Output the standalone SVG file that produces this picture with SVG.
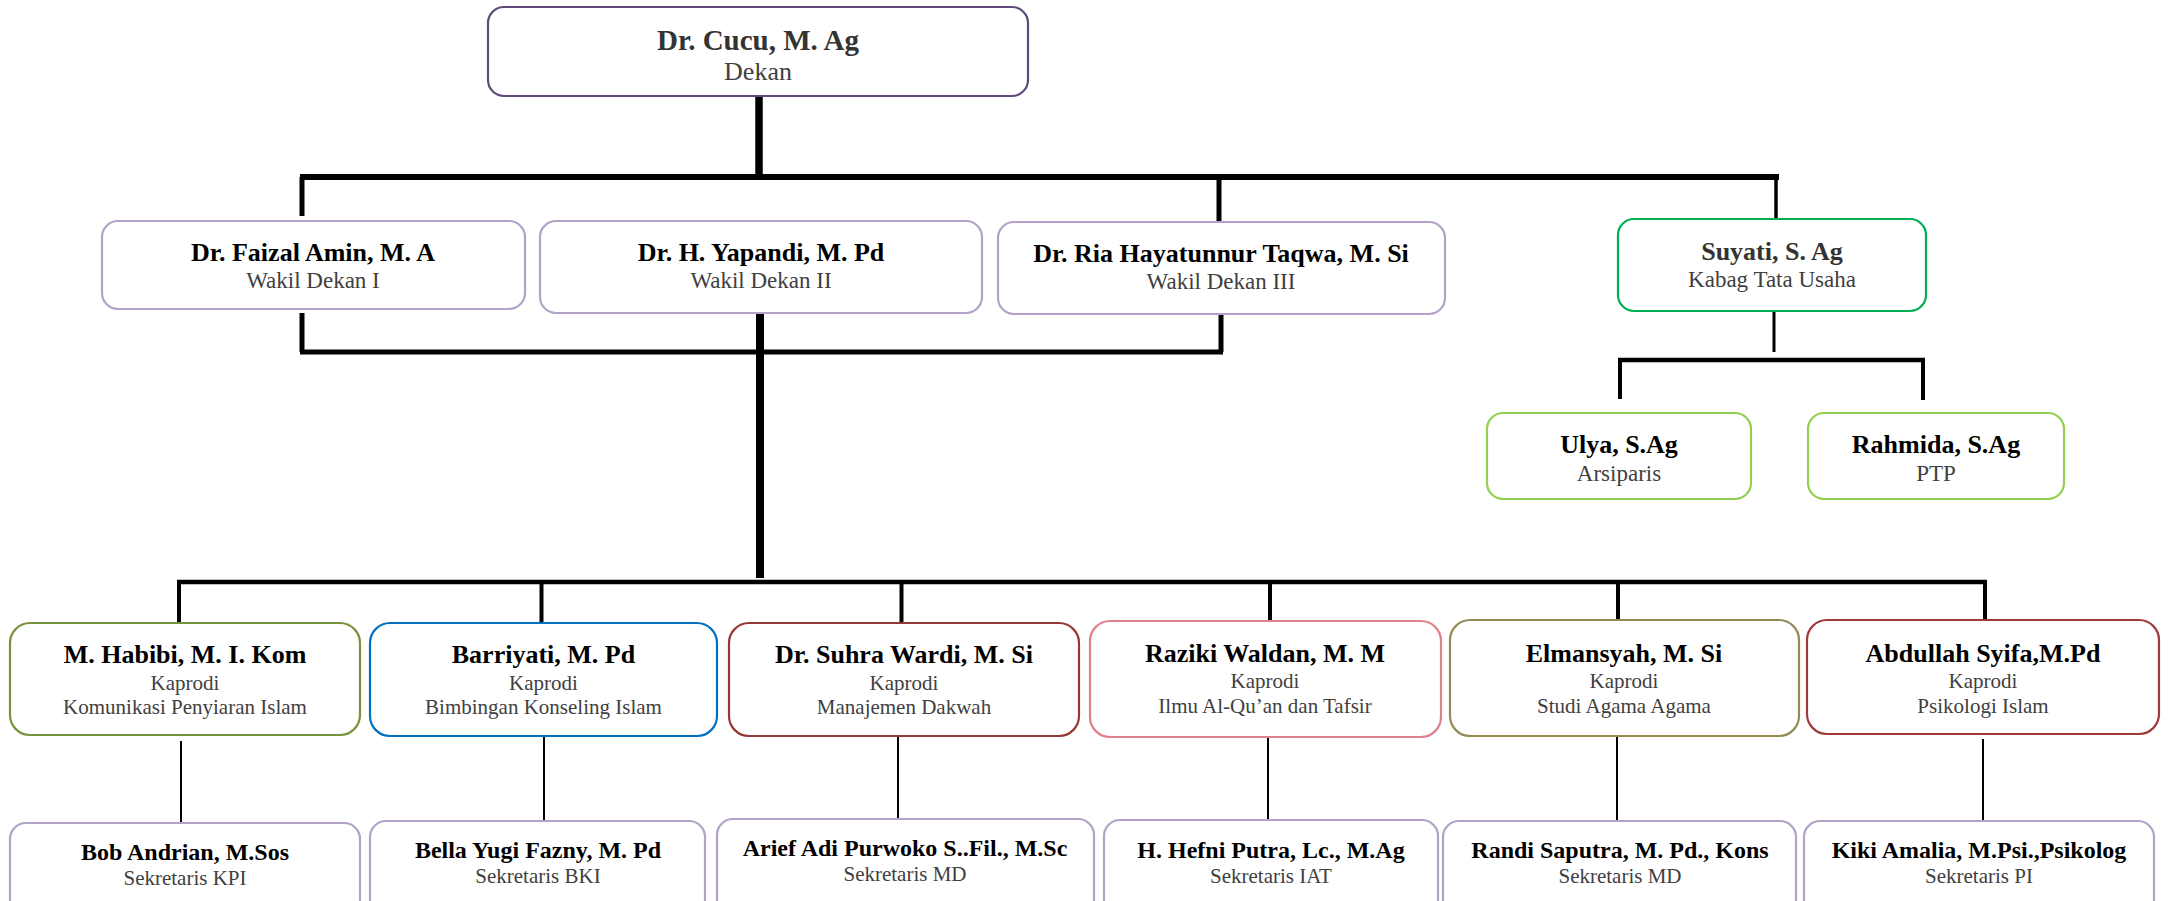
<svg xmlns="http://www.w3.org/2000/svg" width="2170" height="901" viewBox="0 0 2170 901">
<style>
  .bg{fill:#ffffff}
  .box{fill:#ffffff;stroke-width:2.2}
  .lav{stroke:#b3a2c7}
  .nm{font-family:"Liberation Serif","Times New Roman",serif;font-weight:bold;fill:#000;text-anchor:middle}
  .sb{font-family:"Liberation Serif","Times New Roman",serif;fill:#404040;text-anchor:middle}
  .c{fill:none;stroke:#000;stroke-linecap:butt}
  .n1{font-size:29px}
  .s1{font-size:26px}
  .n2{font-size:26px}
  .s2{font-size:23px}
  .n3{font-size:26px}
  .s3{font-size:21px}
  .n4{font-size:24px}
  .s4{font-size:21px}
</style>
<rect class="bg" x="0" y="0" width="2170" height="901"/>

<g id="connectors">
  <path class="c" d="M759 96 V177" stroke-width="7.5"/>
  <path class="c" d="M300 177 H1779" stroke-width="6"/>
  <path class="c" d="M302 177 V216" stroke-width="5"/>
  <path class="c" d="M1219 180 V222" stroke-width="5"/>
  <path class="c" d="M1776 177 V219" stroke-width="3.5"/>
  <path class="c" d="M302 313 V352" stroke-width="5"/>
  <path class="c" d="M300 352 H1223" stroke-width="5"/>
  <path class="c" d="M1221 314 V352" stroke-width="5"/>
  <path class="c" d="M760 313 V578" stroke-width="8"/>
  <path class="c" d="M177 582 H1987" stroke-width="4.5"/>
  <path class="c" d="M179 582 V623" stroke-width="4"/>
  <path class="c" d="M541.5 582 V623" stroke-width="4"/>
  <path class="c" d="M901.5 582 V623" stroke-width="4"/>
  <path class="c" d="M1270 582 V621" stroke-width="4"/>
  <path class="c" d="M1618 582 V620" stroke-width="4"/>
  <path class="c" d="M1985 582 V620" stroke-width="4"/>
  <path class="c" d="M1774 311 V352" stroke-width="3"/>
  <path class="c" d="M1618 360 H1925" stroke-width="4.5"/>
  <path class="c" d="M1620 360 V399" stroke-width="4"/>
  <path class="c" d="M1923 360 V400" stroke-width="4"/>
  <path class="c" d="M181 741 V823" stroke-width="2"/>
  <path class="c" d="M544 736 V821" stroke-width="2"/>
  <path class="c" d="M898 736 V819" stroke-width="2"/>
  <path class="c" d="M1268 737 V820" stroke-width="2"/>
  <path class="c" d="M1617 737 V821" stroke-width="2"/>
  <path class="c" d="M1983 739 V821" stroke-width="2"/>
</g>

<g id="dekan">
  <rect class="box" x="488" y="7" width="540" height="89" rx="16" stroke="#5f497a" stroke-width="2.5"/>
  <text class="nm n1" x="758" y="50" style="fill:#333">Dr. Cucu, M. Ag</text>
  <text class="sb s1" x="758" y="80">Dekan</text>
</g>

<g id="wd1">
  <rect class="box lav" x="102" y="221" width="423" height="88" rx="16"/>
  <text class="nm n2" x="313" y="261">Dr. Faizal Amin, M. A</text>
  <text class="sb s2" x="313" y="288">Wakil Dekan I</text>
</g>
<g id="wd2">
  <rect class="box lav" x="540" y="221" width="442" height="92" rx="16"/>
  <text class="nm n2" x="761" y="261">Dr. H. Yapandi, M. Pd</text>
  <text class="sb s2" x="761" y="288">Wakil Dekan II</text>
</g>
<g id="wd3">
  <rect class="box lav" x="998" y="222" width="447" height="92" rx="16"/>
  <text class="nm n2" x="1221" y="262">Dr. Ria Hayatunnur Taqwa, M. Si</text>
  <text class="sb s2" x="1221" y="289">Wakil Dekan III</text>
</g>
<g id="kabag">
  <rect class="box" x="1618" y="219" width="308" height="92" rx="16" stroke="#00b050"/>
  <text class="nm n2" x="1772" y="260" style="fill:#333">Suyati, S. Ag</text>
  <text class="sb s2" x="1772" y="287">Kabag Tata Usaha</text>
</g>

<g id="ulya">
  <rect class="box" x="1487" y="413" width="264" height="86" rx="16" stroke="#92d050"/>
  <text class="nm n2" x="1619" y="453">Ulya, S.Ag</text>
  <text class="sb s2" x="1619" y="481">Arsiparis</text>
</g>
<g id="rahmida">
  <rect class="box" x="1808" y="413" width="256" height="86" rx="16" stroke="#92d050"/>
  <text class="nm n2" x="1936" y="453">Rahmida, S.Ag</text>
  <text class="sb s2" x="1936" y="481">PTP</text>
</g>

<g id="kpi">
  <rect class="box" x="10" y="623" width="350" height="112" rx="20" stroke="#77933c"/>
  <text class="nm n3" x="185" y="663">M. Habibi, M. I. Kom</text>
  <text class="sb s3" x="185" y="690">Kaprodi</text>
  <text class="sb s3" x="185" y="714">Komunikasi Penyiaran Islam</text>
</g>
<g id="bki">
  <rect class="box" x="370" y="623" width="347" height="113" rx="20" stroke="#0070c0"/>
  <text class="nm n3" x="543.5" y="663">Barriyati, M. Pd</text>
  <text class="sb s3" x="543.5" y="690">Kaprodi</text>
  <text class="sb s3" x="543.5" y="714">Bimbingan Konseling Islam</text>
</g>
<g id="md">
  <rect class="box" x="729" y="623" width="350" height="113" rx="20" stroke="#953735"/>
  <text class="nm n3" x="904" y="663">Dr. Suhra Wardi, M. Si</text>
  <text class="sb s3" x="904" y="690">Kaprodi</text>
  <text class="sb s3" x="904" y="714">Manajemen Dakwah</text>
</g>
<g id="iat">
  <rect class="box" x="1090" y="621" width="351" height="116" rx="20" stroke="#e0808a"/>
  <text class="nm n3" x="1265" y="662">Raziki Waldan, M. M</text>
  <text class="sb s3" x="1265" y="688">Kaprodi</text>
  <text class="sb s3" x="1265" y="713">Ilmu Al-Qu’an dan Tafsir</text>
</g>
<g id="saa">
  <rect class="box" x="1450" y="620" width="349" height="116" rx="20" stroke="#948a54"/>
  <text class="nm n3" x="1624" y="662">Elmansyah, M. Si</text>
  <text class="sb s3" x="1624" y="688">Kaprodi</text>
  <text class="sb s3" x="1624" y="713">Studi Agama Agama</text>
</g>
<g id="pi">
  <rect class="box" x="1807" y="620" width="352" height="114" rx="20" stroke="#a0393a"/>
  <text class="nm n3" x="1983" y="662">Abdullah Syifa,M.Pd</text>
  <text class="sb s3" x="1983" y="688">Kaprodi</text>
  <text class="sb s3" x="1983" y="713">Psikologi Islam</text>
</g>

<g id="sek-kpi">
  <rect class="box lav" x="10" y="823" width="350" height="100" rx="16"/>
  <text class="nm n4" x="185" y="860">Bob Andrian, M.Sos</text>
  <text class="sb s4" x="185" y="885">Sekretaris KPI</text>
</g>
<g id="sek-bki">
  <rect class="box lav" x="370" y="821" width="335" height="100" rx="16"/>
  <text class="nm n4" x="538" y="858">Bella Yugi Fazny, M. Pd</text>
  <text class="sb s4" x="538" y="883">Sekretaris BKI</text>
</g>
<g id="sek-md">
  <rect class="box lav" x="717" y="819" width="377" height="100" rx="16"/>
  <text class="nm n4" x="905" y="856">Arief Adi Purwoko S..Fil., M.Sc</text>
  <text class="sb s4" x="905" y="881">Sekretaris MD</text>
</g>
<g id="sek-iat">
  <rect class="box lav" x="1104" y="820" width="334" height="100" rx="16"/>
  <text class="nm n4" x="1271" y="858">H. Hefni Putra, Lc., M.Ag</text>
  <text class="sb s4" x="1271" y="883">Sekretaris IAT</text>
</g>
<g id="sek-saa">
  <rect class="box lav" x="1443" y="821" width="353" height="100" rx="16"/>
  <text class="nm n4" x="1620" y="858">Randi Saputra, M. Pd., Kons</text>
  <text class="sb s4" x="1620" y="883">Sekretaris MD</text>
</g>
<g id="sek-pi">
  <rect class="box lav" x="1804" y="821" width="350" height="100" rx="16"/>
  <text class="nm n4" x="1979" y="858">Kiki Amalia, M.Psi.,Psikolog</text>
  <text class="sb s4" x="1979" y="883">Sekretaris PI</text>
</g>
</svg>
